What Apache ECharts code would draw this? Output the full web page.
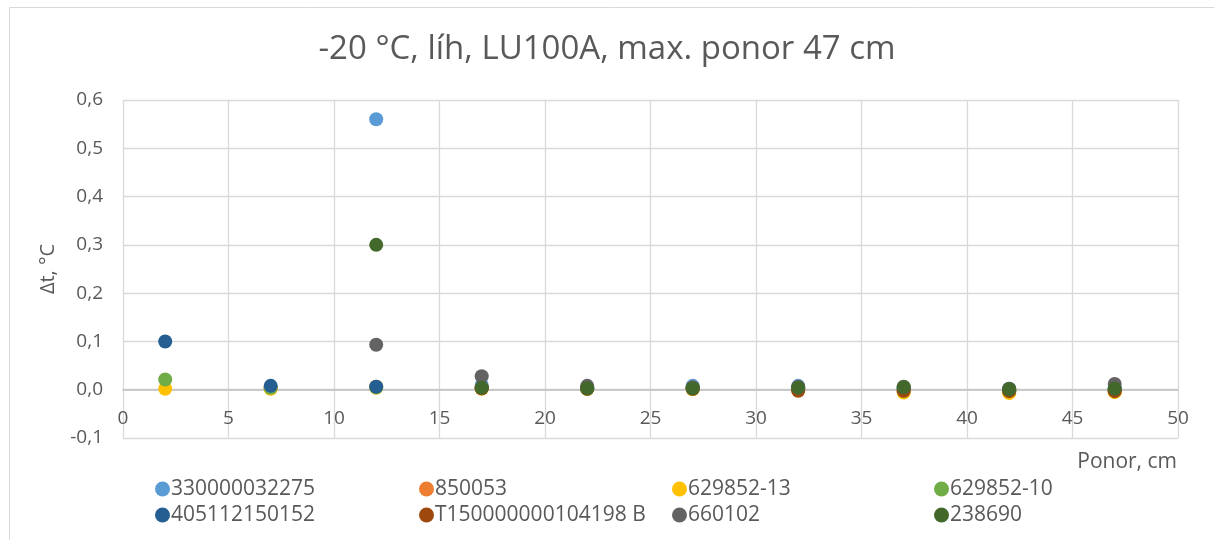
<!DOCTYPE html>
<html><head><meta charset="utf-8">
<script src="https://cdn.jsdelivr.net/npm/echarts@6/dist/echarts.min.js"></script>
<style>html,body{margin:0;padding:0;background:#fff}#c{width:1214px;height:540px}</style>
</head><body><div id="c"></div>
<script>
const titleText = '-20 °C, líh, LU100A, max. ponor 47 cm';
const xName = 'Ponor, cm';
const yName = 'Δt, °C';
const depths = [2, 7, 12, 17, 22, 27, 32, 37, 42, 47];
const seriesNames = ['330000032275','850053','629852-13','629852-10','405112150152','T150000000104198 B','660102','238690'];
const colors = ['#5B9BD5','#ED7D31','#FFC000','#70AD47','#255E91','#9E480E','#636363','#43682B'];
const s330000032275 = [null, 0.004, 0.560, 0.010, 0.004, 0.008, 0.008, 0.002, 0.002, 0.002];
const s850053       = [null, 0.003, 0.006, 0.003, 0.002, 0.002, 0.000,-0.003,-0.004,-0.003];
const s629852_13    = [0.002, 0.002, 0.004, 0.002, 0.002, 0.001, 0.000,-0.006,-0.007,-0.005];
const s629852_10    = [0.021, 0.004, 0.005, 0.003, 0.002, 0.002, 0.001,-0.002,-0.003,-0.002];
const s405112150152 = [0.100, 0.008, 0.006, 0.004, 0.003, 0.003, 0.003, 0.002, 0.000, 0.001];
const sT150         = [null, null, null, 0.003, 0.002, 0.002,-0.002,-0.002,-0.003,-0.003];
const s660102       = [null, null, 0.093, 0.028, 0.008, 0.005, 0.006, 0.006, 0.002, 0.012];
const s238690       = [null, null, 0.300, 0.004, 0.003, 0.003, 0.004, 0.005, 0.001, 0.002];
const allValues = [s330000032275, s850053, s629852_13, s629852_10, s405112150152, sT150, s660102, s238690];
const yTicks = {min: -0.1, max: 0.6, interval: 0.1};
const xTicks = {min: 0, max: 50, interval: 5};

const font = "'Open Sans', sans-serif";
const chart = echarts.init(document.getElementById('c'));
const series = seriesNames.map((n, i) => ({
  name: n, type: 'scatter', symbolSize: 14,
  itemStyle: {color: colors[i], opacity: 1},
  data: depths.map((d, j) => allValues[i][j] === null ? null : [d, allValues[i][j]]).filter(p => p !== null),
  z: 2 + i
}));
const colX = [155, 419, 672, 934];
const legends = [0,1,2,3].map(c => ({
  orient: 'vertical', left: colX[c], top: 476, itemGap: 0, padding: 0,
  icon: 'circle', itemWidth: 15, itemHeight: 15,
  textStyle: {fontFamily: font, fontSize: 21, color: '#595959', padding: [0,0,0,-4], lineHeight: 26},
  data: [seriesNames[c], seriesNames[c+4]],
  selectedMode: false
}));
chart.setOption({
  animation: false,
  backgroundColor: '#fff',
  graphic: [
    {type: 'rect', shape: {x: 9.5, y: 7.5, width: 1210, height: 540}, style: {fill: 'none', stroke: '#D9D9D9', lineWidth: 1}},
    {type: 'text', right: 37, top: 452, style: {text: xName, fontFamily: font, fontSize: 21, fill: '#595959'}}
  ],
  title: {text: titleText, left: 'center', top: 28, textStyle: {fontFamily: font, fontSize: 33, fontWeight: 'normal', color: '#595959'}},
  legend: legends,
  grid: {left: 123, right: 36, top: 100, bottom: 102, containLabel: false, outerBoundsMode: 'none'},
  xAxis: {
    type: 'value', min: xTicks.min, max: xTicks.max, interval: xTicks.interval,
    axisLine: {onZero: true, lineStyle: {color: '#BFBFBF', width: 1.5}},
    axisTick: {show: false},
    axisLabel: {fontFamily: font, fontSize: 19, color: '#595959', margin: -29},
    splitLine: {show: true, lineStyle: {color: '#D9D9D9', width: 1.3}}
  },
  yAxis: {
    type: 'value', min: yTicks.min, max: yTicks.max, interval: yTicks.interval,
    name: yName, nameLocation: 'middle', nameGap: 65, nameRotate: 90,
    nameTextStyle: {fontFamily: font, fontSize: 20, color: '#595959'},
    axisLine: {show: false}, axisTick: {show: false},
    axisLabel: {fontFamily: font, fontSize: 19, color: '#595959', margin: 20, formatter: v => v.toFixed(1).replace('.', ',')},
    splitLine: {show: true, lineStyle: {color: '#D9D9D9', width: 1.3}}
  },
  series: series
});
</script></body></html>
